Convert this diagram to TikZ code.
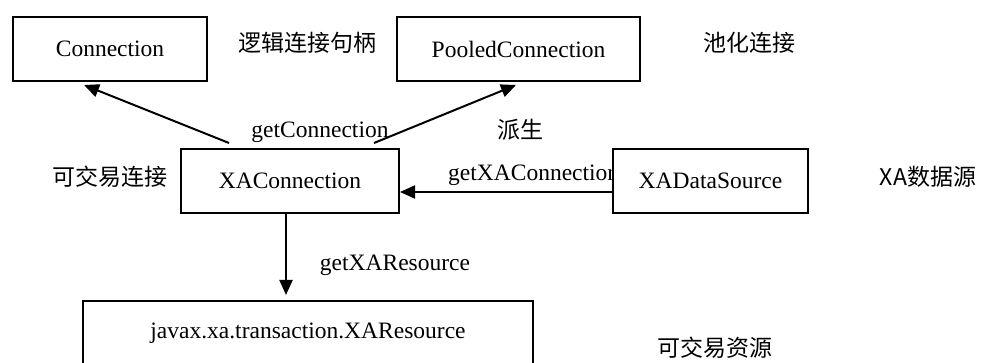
\documentclass[tikz,border=0pt]{standalone}
\usepackage{fontspec}
\setmainfont{Liberation Serif}
\newfontfamily\cjk{Noto Sans CJK SC}
\usetikzlibrary{arrows.meta}
\begin{document}
\begin{tikzpicture}[x=1pt,y=-1pt,
  box/.style={draw, line width=2pt, fill=white, inner sep=0pt, font=\fontsize{23.5}{26}\selectfont},
  lbl/.style={inner sep=0pt, font=\fontsize{23.5}{26}\selectfont},
  cn/.style={inner sep=0pt, font=\cjk\fontsize{23}{26}\selectfont},
  arr/.style={line width=2pt, -{Triangle[length=15pt,width=13pt]}}]
\useasboundingbox (0,0) rectangle (983,363);
\node[box, minimum width=194pt, minimum height=64pt] (con) at (110,49) {Connection};
\node[box, minimum width=243pt, minimum height=64pt] (pc) at (518.5,49) {PooledConnection};
\node[box, minimum width=218pt, minimum height=64pt] (xac) at (290,181) {XAConnection};
\node[lbl, anchor=west] (gxac) at (448,175) {getXAConnection};
\node[box, minimum width=195pt, minimum height=64pt] (xads) at (710.5,181) {XADataSource};
\node[box, minimum width=450pt, minimum height=64pt] (xar) at (308,333) {javax.xa.transaction.XAResource};
\node[cn] (t1) at (307,43) {逻辑连接句柄};
\node[cn] (t2) at (749,43) {池化连接};
\node[lbl] (gc) at (320,132) {getConnection};
\node[cn] (t3) at (520,130) {派生};
\node[cn] (t4) at (110,177) {可交易连接};
\node[cn] (t5) at (928,177) {XA数据源};
\node[lbl] (gxr) at (395,265) {getXAResource};
\node[cn] (t6) at (715,348) {可交易资源};
\draw[arr] ([xshift=49pt,yshift=5pt]xac.north west) -- ([xshift=72pt,yshift=-3pt]con.south west);
\draw[arr] ([xshift=-26pt,yshift=5pt]xac.north east) -- ([xshift=120pt,yshift=-3pt]pc.south west);
\draw[arr] ([yshift=-11pt]xads.west) -- ([yshift=-11pt]xac.east);
\draw[arr, shorten >=5pt] ([xshift=-4pt]xac.south) -- ([xshift=-4pt]xac.south |- xar.north);
\end{tikzpicture}
\end{document}
